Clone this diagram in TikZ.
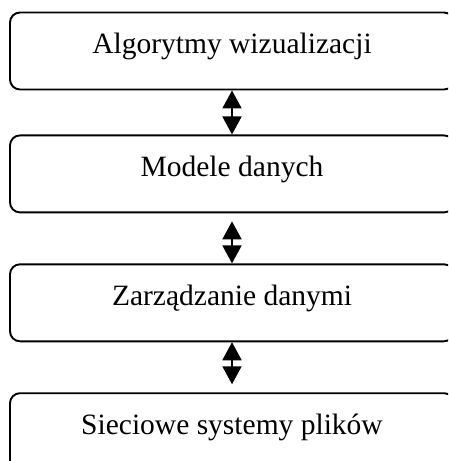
\documentclass[tikz,border=0pt]{standalone}
\usepackage{fontspec}
\setmainfont{Liberation Serif}
\usepackage{tikz}
\usetikzlibrary{arrows.meta,positioning}

\begin{document}
\begin{tikzpicture}[x=1pt, y=1pt, line width=1.9pt, >={Triangle[length=18pt,width=19pt]},
    layer/.style={draw, rectangle, rounded corners=10pt, minimum width=444pt, minimum height=77pt,
        inner sep=0pt, text height=41pt, text depth=36pt, font=\fontsize{29.5}{34}\selectfont}]
    \clip (0,0) rectangle (448,-461);
    \node[layer] (algo) at (232,-51) {Algorytmy wizualizacji};
    \node[layer, below=44pt of algo] (modele) {Modele danych};
    \node[layer, below=50pt of modele] (zarz) {Zarządzanie danymi};
    \node[layer, below=50pt of zarz] (siec) {Sieciowe systemy plików};
    \draw[<->] (algo) -- (modele);
    \draw[<->, shorten <=8pt] (modele) -- (zarz);
    \draw[<->, shorten >=8pt] (zarz) -- (siec);
\end{tikzpicture}
\end{document}
